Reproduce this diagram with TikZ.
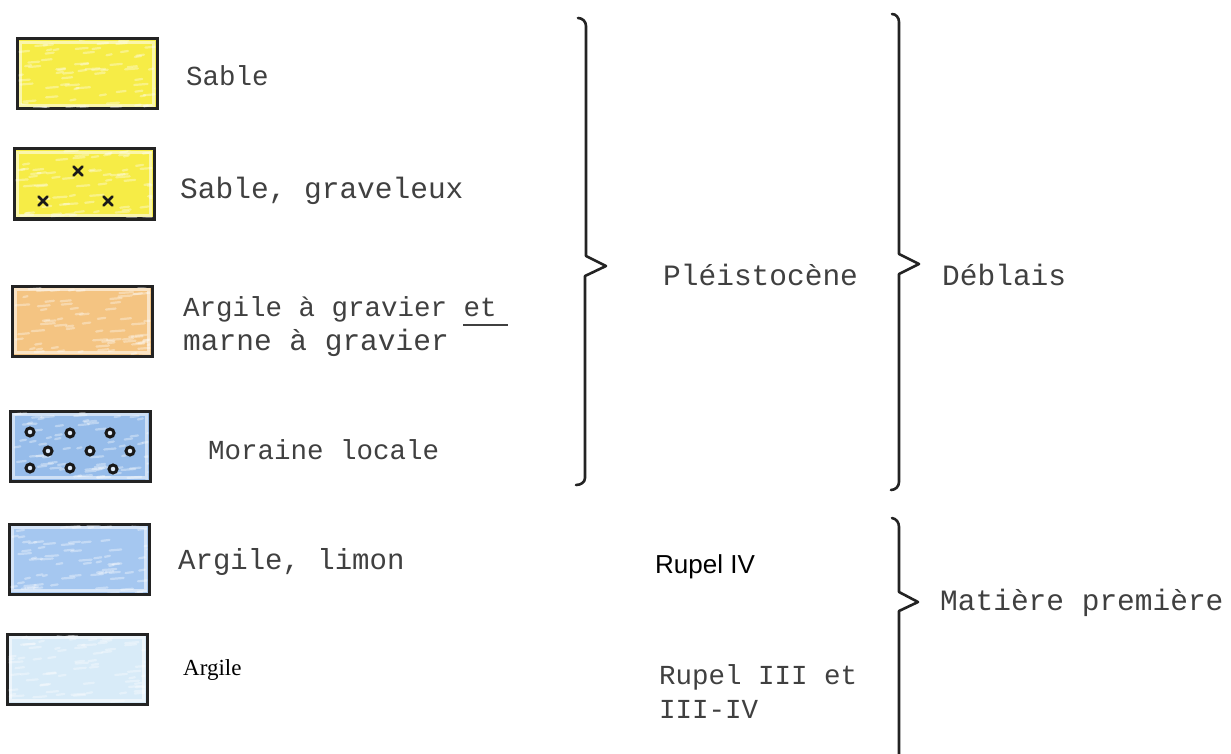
\documentclass[tikz,border=0pt]{standalone}
\usepackage{fontspec}
\usetikzlibrary{calc}
\setmonofont{Liberation Mono}
\newfontfamily\arialfont{Liberation Sans}
\newfontfamily\timesfont{Liberation Serif}
\definecolor{sandY}{RGB}{246,236,70}
\definecolor{clayO}{RGB}{244,196,130}
\definecolor{morB}{RGB}{150,188,234}
\definecolor{siltB}{RGB}{165,199,240}
\definecolor{clayB}{RGB}{216,235,248}
\definecolor{ink}{RGB}{35,35,35}
\begin{document}
\begin{tikzpicture}[x=1pt,y=-1pt,
  swatch/.style={draw=ink,line width=3pt,minimum width=140pt,minimum height=70pt,inner sep=0pt,outer sep=0pt},
  lbl/.style={anchor=base west,inner sep=0pt,text=black!75,font=\fontsize{27.5}{32}\selectfont\ttfamily},
  big/.style={font=\fontsize{29.5}{34}\selectfont\ttfamily},
  lblsans/.style={anchor=base west,inner sep=0pt,text=black,font=\fontsize{26}{30}\selectfont\arialfont},
  lblserif/.style={anchor=base west,inner sep=0pt,text=black,font=\fontsize{23}{28}\selectfont\timesfont},
  bracket/.style={draw=ink,line width=2.6pt,line join=round,line cap=round},
  pebble/.style={draw=black!90,line width=3pt,fill=white!70!morB},
  grit/.style={draw=black!90,line width=2.8pt,line cap=round}]
\useasboundingbox (0,0) rectangle (1231,754);
\fill[white] (0,0) rectangle (1231,754);

% legend swatches
\node[swatch,fill=sandY] (s1) at (87,74) {};
\node[swatch,fill=sandY] (s2) at (84,184) {};
\node[swatch,fill=clayO] (s3) at (82,321) {};
\node[swatch,fill=morB] (s4) at (80,446) {};
\node[swatch,fill=siltB] (s5) at (79,559) {};
\node[swatch,fill=clayB] (s6) at (77,669) {};

% pencil texture: pale grain and an uncoloured rim inside each swatch
\pgfmathsetseed{4242}
\foreach \b in {s1,s2,s3,s4,s5,s6}{
  \begin{scope}
    \clip ([shift={(1.6,-1.6)}]\b.south west) rectangle ([shift={(-1.6,1.6)}]\b.north east);
    \foreach \k in {1,...,70}{
      \pgfmathsetmacro{\u}{rnd}
      \pgfmathsetmacro{\v}{rnd}
      \pgfmathsetmacro{\w}{4+10*rnd}
      \draw[white,opacity=0.35,line width=2.2pt,line cap=round]
        ($(\b.south west)!\u!(\b.south east)!\v!($(\b.north west)!\u!(\b.north east)$)$) -- ++(\w,-1);
    }
    \draw[white,opacity=0.55,line width=3pt] ([shift={(3.2,-3.2)}]\b.south west) rectangle ([shift={(-3.2,3.2)}]\b.north east);
  \end{scope}
}

% gravel marks
\foreach \p in {(78,171),(43,201),(108,201)}{
  \draw[grit] \p ++(-4.5,-4.5) -- ++(9,9) \p ++(-4.5,4.5) -- ++(9,-9);
}
% local moraine pebbles
\foreach \p in {(30,432),(70,433),(110,433),(48,451),(90,451),(130,451),(30,468),(70,468),(113,469)}{
  \draw[pebble] \p circle (4);
}

% legend texts
\node[lbl] (t1) at (186,86) {Sable};
\node[lbl,big] (t2) at (180,199) {Sable, graveleux};
\node[lbl] (t3) at (183,316) {Argile à gravier et};
\node[lbl,big] (t3b) at (183,350) {marne à gravier};
\node[lbl] (t4) at (208,459) {Moraine locale};
\node[lbl,font=\fontsize{29}{34}\selectfont\ttfamily] (t5) at (178,569) {Argile, limon};
\node[lblserif] (t6) at (183,675) {Argile};
\draw[black!75,line width=1.2pt] (463,325) -- (508,325);

% stratigraphic units
\node[lbl,big] (pleist) at (663,285) {Pléistocène};
\node[lblsans] (rup4) at (655,573) {Rupel IV};
\node[lbl] (rup3) at (659,684) {Rupel III et};
\node[lbl] (rup34) at (659,718) {III-IV};
\node[lbl,big] (debl) at (942,285) {Déblais};
\node[lbl,big] (mat) at (940,610) {Matière première};

% curly brackets
\draw[bracket] (578,18) to[out=0,in=90] (586,26) -- (586,256) -- (606,266) -- (585,276) -- (585,478) to[out=-90,in=0] (576,485);
\draw[bracket] (892,14) to[out=0,in=90] (899,22) -- (899,254) -- (919,264) -- (899,274) -- (899,482) to[out=-90,in=0] (891,490);
\draw[bracket] (892,518) to[out=-10,in=90] (899,527) -- (899,592) -- (918,602) -- (899,611) -- (899,760);
\end{tikzpicture}
\end{document}
